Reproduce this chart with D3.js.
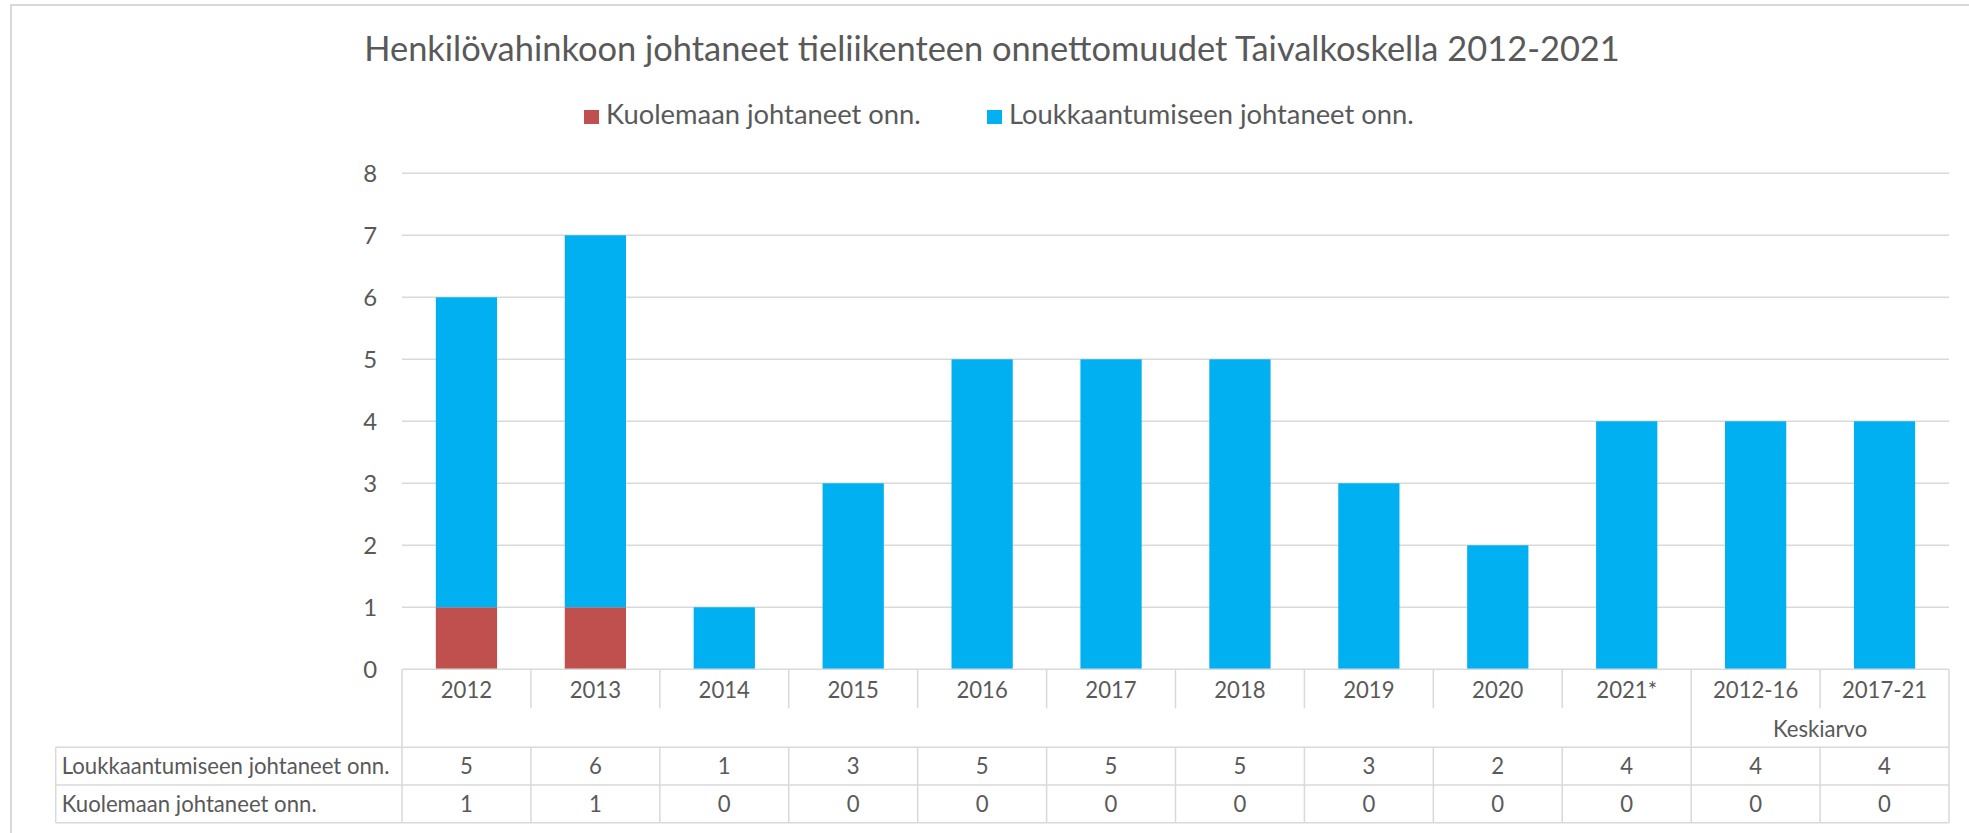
<!DOCTYPE html>
<html>
<head>
<meta charset="utf-8">
<title>Taivalkoski tieliikenneonnettomuudet</title>
<script src="https://d3js.org/d3.v7.min.js"></script>
<style>
  body { margin: 0; background: #fff; }
  text { font-family: Lato, "Open Sans", sans-serif; fill: #595959; }
</style>
</head>
<body>
<div id="chart"></div>
<script>

// data
var categories = ["2012", "2013", "2014", "2015", "2016", "2017", "2018", "2019", "2020", "2021*", "2012-16", "2017-21"]
var injuryAcc = [5, 6, 1, 3, 5, 5, 5, 3, 2, 4, 4, 4]   // Loukkaantumiseen johtaneet onn.
var fatalAcc  = [1, 1, 0, 0, 0, 0, 0, 0, 0, 0, 0, 0]   // Kuolemaan johtaneet onn.
var yTicks = [0, 1, 2, 3, 4, 5, 6, 7, 8]
var seriesNames = ["Kuolemaan johtaneet onn.", "Loukkaantumiseen johtaneet onn."]
var groupLabel = "Keskiarvo"
var title = "Henkilövahinkoon johtaneet tieliikenteen onnettomuudet Taivalkoskella 2012-2021"

var width = 1969
var height = 833
var red = "#C0504D", blue = "#00B0F0", grid = "#D9D9D9"

var svg = d3.select("#chart")
  .append("svg")
    .attr("width", width)
    .attr("height", height)

// find a font size so the string gets the width it has in the picture
function fit(str, target) {
  var t = svg.append("text").style("font-size", "100px").text(str)
  var w = t.node().getComputedTextLength()
  t.remove()
  return 100 * target / w
}
var titleSize = fit(title, 1256)
var legendSize = fit(seriesNames[0], 315)
var tableSize = fit(seriesNames[1], 328)
var tickSize = tableSize * 1.08

// chart frame (cut off at the right and bottom like the original)
svg.append("rect")
  .attr("x", 11).attr("y", 5)
  .attr("width", width + 20).attr("height", height + 20)
  .attr("fill", "none")
  .attr("stroke", grid)
  .attr("stroke-width", 2)

// plot area
var plotLeft = 402, plotRight = 1949, plotTop = 173.3, plotBottom = 669.3

var x = d3.scaleBand()
  .domain(categories)
  .range([plotLeft, plotRight])
  .paddingInner(0.525)
  .paddingOuter(0.2625)

var y = d3.scaleLinear()
  .domain([0, 8])
  .range([plotBottom, plotTop])

// gridlines
svg.append("g")
  .selectAll("line")
  .data(yTicks.filter(function(d){ return d > 0 }))
  .enter()
  .append("line")
    .attr("x1", plotLeft).attr("x2", plotRight)
    .attr("y1", function(d){ return y(d) }).attr("y2", function(d){ return y(d) })
    .attr("stroke", grid)
    .attr("stroke-width", 1.5)

// y tick labels
svg.append("g")
  .selectAll("text")
  .data(yTicks)
  .enter()
  .append("text")
    .attr("x", 377)
    .attr("y", function(d){ return y(d) })
    .attr("dy", "0.35em")
    .attr("text-anchor", "end")
    .style("font-size", tickSize + "px")
    .text(function(d){ return d })

// stacked bars
var rows = categories.map(function(c, i){ return { cat: c, fatal: fatalAcc[i], injury: injuryAcc[i] } })
var stacked = d3.stack().keys(["fatal", "injury"])(rows)
var colors = { fatal: red, injury: blue }

svg.append("g")
  .selectAll("g")
  .data(stacked)
  .enter()
  .append("g")
    .attr("fill", function(s){ return colors[s.key] })
  .selectAll("rect")
  .data(function(s){ return s.filter(function(d){ return d[1] > d[0] }) })
  .enter()
  .append("rect")
    .attr("x", function(d){ return x(d.data.cat) })
    .attr("width", x.bandwidth())
    .attr("y", function(d){ return y(d[1]) })
    .attr("height", function(d){ return y(d[0]) - y(d[1]) })

// data table below the axis
var step = x.step()
var tableLeft = 55.7
var labelBottom = 708.3, rowTop = 747.3, rowMid = 785, rowBottom = 822.7
var table = svg.append("g").attr("stroke", grid).attr("stroke-width", 1.5)

table.append("line").attr("x1", plotLeft).attr("x2", plotRight).attr("y1", plotBottom).attr("y2", plotBottom)
;[rowTop, rowMid, rowBottom].forEach(function(yy){
  table.append("line").attr("x1", tableLeft).attr("x2", plotRight).attr("y1", yy).attr("y2", yy)
})
table.append("line").attr("x1", tableLeft).attr("x2", tableLeft).attr("y1", rowTop).attr("y2", rowBottom)
table.append("line").attr("x1", plotLeft).attr("x2", plotLeft).attr("y1", plotBottom).attr("y2", rowBottom)
table.append("line").attr("x1", plotRight).attr("x2", plotRight).attr("y1", plotBottom).attr("y2", rowBottom)

var groupStart = categories.indexOf("2012-16")
d3.range(1, categories.length).forEach(function(i){
  var bx = plotLeft + i * step
  if (i === groupStart) {
    table.append("line").attr("x1", bx).attr("x2", bx).attr("y1", plotBottom).attr("y2", rowBottom)
  } else {
    table.append("line").attr("x1", bx).attr("x2", bx).attr("y1", plotBottom).attr("y2", labelBottom)
    table.append("line").attr("x1", bx).attr("x2", bx).attr("y1", rowTop).attr("y2", rowBottom)
  }
})

// category labels
svg.append("g")
  .selectAll("text")
  .data(categories)
  .enter()
  .append("text")
    .attr("x", function(d){ return x(d) + x.bandwidth() / 2 })
    .attr("y", 690)
    .attr("dy", "0.35em")
    .attr("text-anchor", "middle")
    .style("font-size", tableSize + "px")
    .text(function(d){ return d })

svg.append("text")
  .attr("x", plotLeft + (groupStart + 1) * step)
  .attr("y", 729.5)
  .attr("dy", "0.35em")
  .attr("text-anchor", "middle")
  .style("font-size", tableSize + "px")
  .text(groupLabel)

// table rows: label + values
var tableRows = [
  { name: seriesNames[1], values: injuryAcc, yc: (rowTop + rowMid) / 2 },
  { name: seriesNames[0], values: fatalAcc, yc: (rowMid + rowBottom) / 2 }
]
tableRows.forEach(function(r){
  svg.append("text")
    .attr("x", tableLeft + 6)
    .attr("y", r.yc)
    .attr("dy", "0.35em")
    .style("font-size", tableSize + "px")
    .text(r.name)
  svg.append("g")
    .selectAll("text")
    .data(r.values)
    .enter()
    .append("text")
      .attr("x", function(d, i){ return x(categories[i]) + x.bandwidth() / 2 })
      .attr("y", r.yc)
      .attr("dy", "0.35em")
      .attr("text-anchor", "middle")
      .style("font-size", tableSize + "px")
      .text(function(d){ return d })
})

// title
svg.append("text")
  .attr("x", 992)
  .attr("y", 61)
  .attr("text-anchor", "middle")
  .style("font-size", titleSize + "px")
  .text(title)

// legend
var legendItems = [
  { name: seriesNames[0], color: red, x: 584 },
  { name: seriesNames[1], color: blue, x: 987 }
]
var legend = svg.append("g")
legendItems.forEach(function(d){
  legend.append("rect")
    .attr("x", d.x).attr("y", 110)
    .attr("width", 15).attr("height", 14)
    .attr("fill", d.color)
  legend.append("text")
    .attr("x", d.x + 22)
    .attr("y", 124.3)
    .style("font-size", legendSize + "px")
    .text(d.name)
})

</script>
</body>
</html>
